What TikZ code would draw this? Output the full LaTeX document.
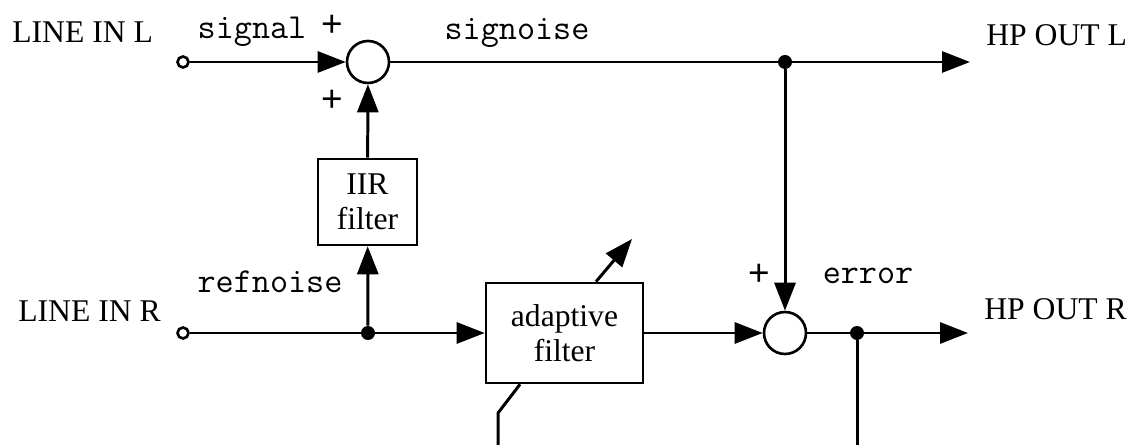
\documentclass[tikz,border=0pt]{standalone}
\usepackage{fontspec}
\setmainfont{Liberation Serif}
\newfontfamily\signfont{Liberation Sans}
\usetikzlibrary{arrows.meta,positioning}

\begin{document}
\begin{tikzpicture}[x=0.02cm,y=-0.02cm,
		wire/.style={line width=1.7pt},
		sig/.style={wire,-{Triangle[length=0.56cm,width=0.42cm]}},
		block/.style={draw,line width=1.5pt,align=center,inner sep=0pt,font=\fontsize{18}{20}\selectfont},
		sumjunc/.style={draw,circle,line width=1.5pt,minimum size=0.84cm,inner sep=0pt},
		port/.style={draw,circle,line width=1.5pt,minimum size=0.22cm,inner sep=0pt,fill=white},
		junc/.style={fill,circle,minimum size=0.28cm,inner sep=0pt},
		lbl/.style={inner sep=0pt,font=\fontsize{18}{20}\selectfont},
		var/.style={inner sep=0pt,font=\ttfamily\fontsize{20}{22}\selectfont},
		sgn/.style={inner sep=0pt,font=\signfont\fontsize{21}{23}\selectfont}]
		\useasboundingbox (0,0) rectangle (1132,445);
		
		\node[port] (inL) at (183,62) {};
		\node[sumjunc] (sumL) at (368,62) {};
		\node[junc] (tapL) at (785,62) {};
		\coordinate (outL) at (970,62);
		\node[block,minimum width=1.98cm,minimum height=1.72cm] (iir) at (367.5,202) {IIR\\filter};
		
		\node[port] (inR) at (183,333) {};
		\node[junc] (tapR) at (368,333) {};
		\node[block,minimum width=3.14cm,minimum height=2cm] (adapt) at (564.5,333) {adaptive\\filter};
		\node[sumjunc] (sumR) at (785,333) {};
		\node[junc] (tapE) at (857,333) {};
		\coordinate (outR) at (968,333);
		\coordinate (errEnd) at (857,445);
		\coordinate (tuneTip) at (632,239);
		\coordinate (updKnee) at (498,413);
		\coordinate (updEnd) at (498,445);
		
		\node[lbl,anchor=base west] (lineInL) at (12,43) {LINE IN L};
		\node[var,anchor=base] (sigName) at (252,39) {signal};
		\node[sgn] (plusA) at (332,26) {+};
		\node[sgn] (plusB) at (332,101) {+};
		\node[var,anchor=base] (sigNoise) at (517,40) {signoise};
		\node[lbl,anchor=base west] (hpOutL) at (986,46) {HP OUT L};
		\node[lbl,anchor=base west] (lineInR) at (18,322) {LINE IN R};
		\node[var,anchor=base] (refName) at (270,293) {refnoise};
		\node[sgn] (plusC) at (759,275) {+};
		\node[var,anchor=base] (errName) at (868,284) {error};
		\node[lbl,anchor=base west] (hpOutR) at (984,320) {HP OUT R};
		
		\draw[sig] (inL) -- (sumL);
		\draw[wire] (sumL) -- (tapL);
		\draw[sig] (tapL) -- (outL);
		\draw[sig] (tapL) -- (sumR);
		\draw[sig] (iir) -- (sumL);
		\draw[wire] (inR) -- (tapR);
		\draw[sig] (tapR) -- (iir);
		\draw[sig] (tapR) -- (adapt);
		\draw[sig] (adapt) -- (sumR);
		\draw[wire] (sumR) -- (tapE);
		\draw[sig] (tapE) -- (outR);
		\draw[wire] (tapE) -- (errEnd);
		\draw[sig] ([xshift=0.63cm]adapt.north) -- (tuneTip);
		\draw[wire] ([xshift=-0.89cm]adapt.south) -- (updKnee) -- (updEnd);
	\end{tikzpicture}
\end{document}
